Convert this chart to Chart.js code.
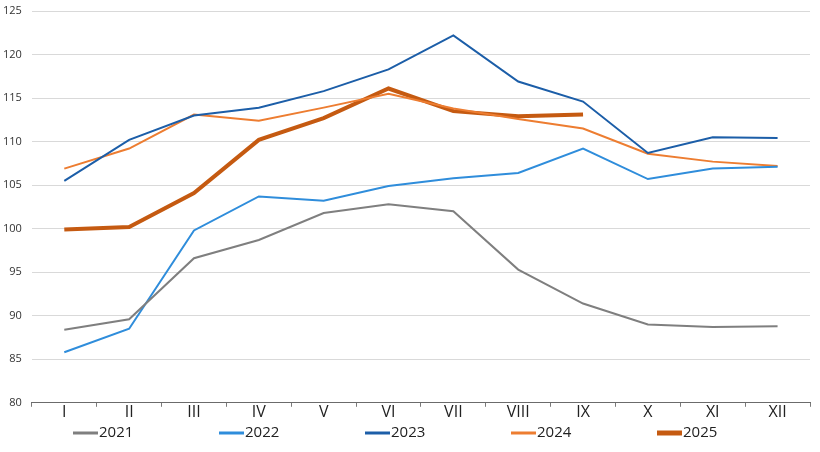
<!DOCTYPE html>
<html>
<head>
<meta charset="utf-8">
<script src="https://cdn.jsdelivr.net/npm/chart.js@4/dist/chart.umd.min.js"></script>
<style>
  html, body { margin: 0; padding: 0; background: #fff; }
  #wrap { width: 820px; height: 452px; }
</style>
</head>
<body>
<div id="wrap"><canvas id="chart"></canvas></div>
<script>
const months = ['I', 'II', 'III', 'IV', 'V', 'VI', 'VII', 'VIII', 'IX', 'X', 'XI', 'XII'];

const values2021 = [88.4, 89.6, 96.6, 98.7, 101.8, 102.8, 102.0, 95.3, 91.4, 89.0, 88.7, 88.8];
const values2022 = [85.8, 88.5, 99.8, 103.7, 103.2, 104.9, 105.8, 106.4, 109.2, 105.7, 106.9, 107.1];
const values2023 = [105.5, 110.2, 113.0, 113.9, 115.8, 118.3, 122.2, 116.9, 114.6, 108.7, 110.5, 110.4];
const values2024 = [106.9, 109.2, 113.1, 112.4, 113.9, 115.5, 113.8, 112.6, 111.5, 108.6, 107.7, 107.2];
const values2025 = [99.9, 100.2, 104.1, 110.2, 112.7, 116.1, 113.5, 112.9, 113.1];

const fontFamily = "'Open Sans', 'Liberation Sans', sans-serif";

function line(label, data, color, width) {
  return {
    label,
    data,
    borderColor: color,
    backgroundColor: color,
    borderWidth: width,
    pointRadius: 0,
    pointHoverRadius: 0,
    tension: 0,
    fill: false,
  };
}

// legend drawn by hand: the built-in one uses the same padding vertically,
// which eats the plot height when items are spread this wide
const wideLegend = {
  id: 'wideLegend',
  afterDraw(chart) {
    const ctx = chart.ctx;
    const startX = 73;
    const step = 146;
    const y = 433;
    ctx.save();
    ctx.font = `15px ${fontFamily}`;
    ctx.textBaseline = 'middle';
    ctx.fillStyle = '#222';
    chart.data.datasets.forEach((dataset, i) => {
      const x = startX + i * step;
      ctx.beginPath();
      ctx.strokeStyle = dataset.borderColor;
      ctx.lineWidth = dataset.borderWidth + 1;
      ctx.moveTo(x, y);
      ctx.lineTo(x + 25, y);
      ctx.stroke();
      ctx.fillText(dataset.label, x + 26, y);
    });
    ctx.restore();
  },
};

new Chart(document.getElementById('chart'), {
  type: 'line',
  data: {
    labels: months,
    datasets: [
      line('2021', values2021, '#7f7f7f', 2),
      line('2022', values2022, '#2f8ddb', 2),
      line('2023', values2023, '#1c5ea8', 2),
      line('2024', values2024, '#ed7d31', 2),
      line('2025', values2025, '#c55a11', 4),
    ],
  },
  plugins: [wideLegend],
  options: {
    responsive: true,
    maintainAspectRatio: false,
    animation: false,
    layout: { padding: { top: 11, right: 10, left: -7, bottom: 34 } },
    plugins: {
      tooltip: { enabled: false },
      legend: { display: false },
    },
    scales: {
      x: {
        offset: true,
        grid: {
          offset: true,
          drawOnChartArea: false,
          drawTicks: true,
          tickLength: 4,
          color: '#7a7a7a',
        },
        border: { color: '#6b6b6b', width: 1 },
        ticks: {
          color: '#222',
          padding: -4,
          font: { family: fontFamily, size: 16 },
        },
      },
      y: {
        min: 80,
        max: 125,
        afterFit(scale) {
          scale.paddingTop = 0;
        },
        grid: {
          color: '#d9d9d9',
          drawTicks: false,
        },
        border: { display: false },
        ticks: {
          stepSize: 5,
          color: '#333',
          padding: 10,
          font: { family: fontFamily, size: 11 },
        },
      },
    },
  },
});
</script>
</body>
</html>
